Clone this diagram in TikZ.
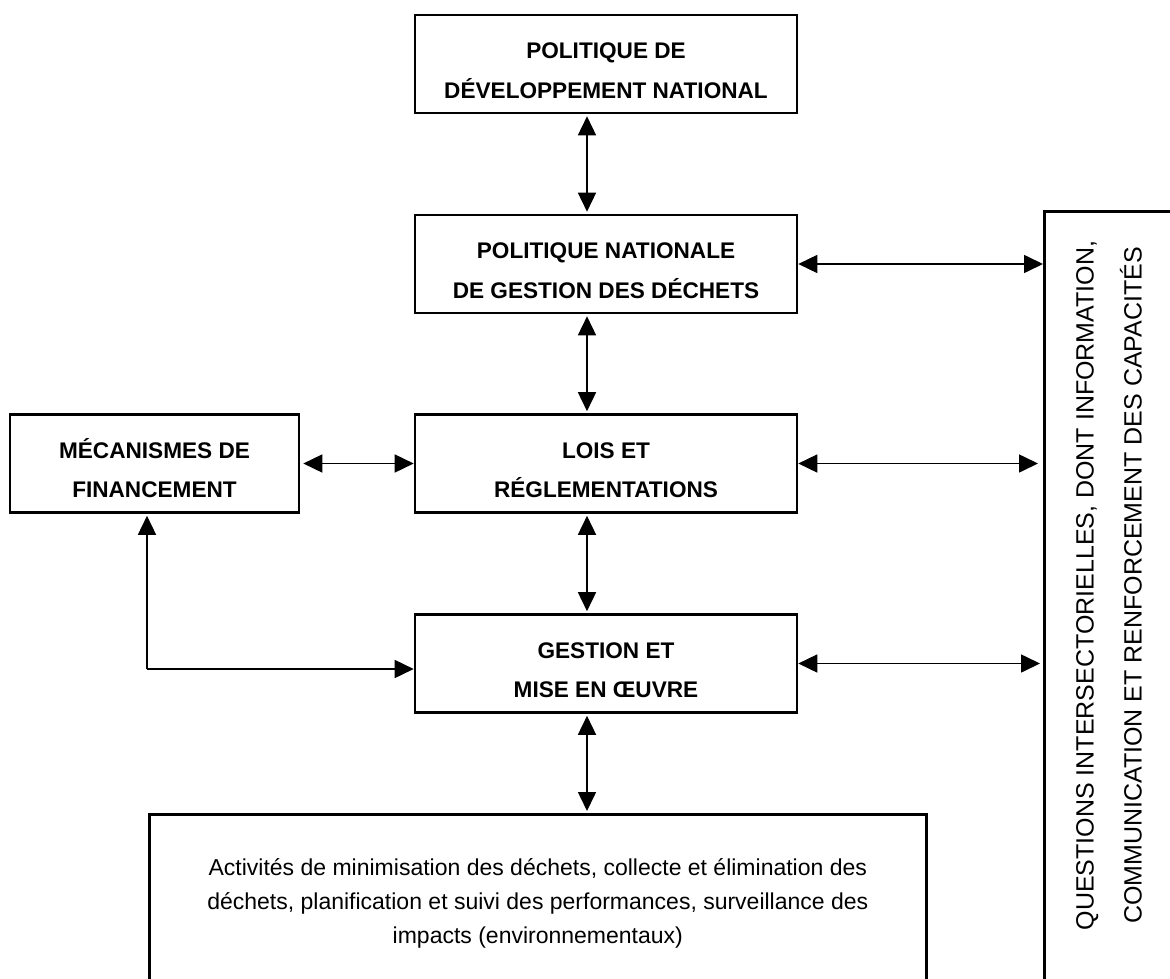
\documentclass[tikz,border=0pt]{standalone}
\usepackage{fontspec}
\setmainfont{Liberation Sans}
\usetikzlibrary{arrows.meta,calc}
\begin{document}
\begin{tikzpicture}[x=1pt,y=-1pt,
  box/.style={draw, line width=2.6pt, rectangle, inner sep=0pt, align=center,
    minimum height=98pt, font=\fontsize{22.6}{39.5}\selectfont\bfseries},
  frame/.style={draw, line width=2.6pt, rectangle, inner sep=0pt},
  tip/.style={Triangle[length=19pt,width=18pt]},
  arr/.style={line width=1.6pt, {Triangle[length=19pt,width=18pt]}-{Triangle[length=19pt,width=18pt]}},
  oarr/.style={line width=1.6pt, -{Triangle[length=19pt,width=18pt]}},
  seg/.style={line width=1.6pt}]
\useasboundingbox (0,0) rectangle (1170,979);
\fill[white] (0,0) rectangle (1170,979);
\clip (0,0) rectangle (1170,979);

% main column
\node[box, minimum width=382pt] (b1) at (606,64) {\rule{0pt}{29.5pt}POLITIQUE DE\\DÉVELOPPEMENT NATIONAL};
\node[box, minimum width=382pt] (b2) at (606,264) {\rule{0pt}{29.5pt}POLITIQUE NATIONALE\\DE GESTION DES DÉCHETS};
\node[box, minimum width=382pt] (b3) at (606,463.5) {\rule{0pt}{29.5pt}LOIS ET\\RÉGLEMENTATIONS};
\node[box, minimum width=382pt] (b4) at (606,663.5) {\rule{0pt}{29.5pt}GESTION ET\\MISE EN ŒUVRE};
\node[box, minimum width=289pt] (mec) at (154.5,463.5) {\rule{0pt}{29.5pt}MÉCANISMES DE\\FINANCEMENT};

% bottom box (cut by the page edge)
\node[frame, minimum width=777pt, minimum height=176pt, anchor=north west, align=center,
  font=\fontsize{23}{34}\selectfont] (act) at (148,813)
  {\rule{0pt}{20pt}Activités de minimisation des déchets, collecte et élimination des\\
   déchets, planification et suivi des performances, surveillance des\\
   impacts (environnementaux)\rule[-6pt]{0pt}{0pt}};

% right box (cut by the page edges)
\node[frame, minimum width=200pt, minimum height=800pt, anchor=north west] (rb) at (1043,210) {};
\node[rotate=90, align=center, inner sep=0pt, font=\fontsize{25}{48}\selectfont] (qt) at (1109,585.5)
  {QUESTIONS INTERSECTORIELLES, DONT INFORMATION,\\COMMUNICATION ET RENFORCEMENT DES CAPACITÉS};

% connectors
\coordinate (ax) at (587,0);
\draw[arr, shorten <=2pt, shorten >=2pt] (b1.south -| ax) -- (b2.north -| ax);
\draw[arr, shorten <=2pt, shorten >=2pt] (b2.south -| ax) -- (b3.north -| ax);
\draw[arr, shorten <=2pt, shorten >=2pt] (b3.south -| ax) -- (b4.north -| ax);
\draw[arr, shorten <=2pt, shorten >=2pt] (b4.south -| ax) -- (act.north -| ax);

\draw[arr] (b2.east) -- (rb.west |- b2.east);
\draw[arr, shorten >=5pt] (b3.east) -- (rb.west |- b3.east);
\draw[arr, shorten >=3pt] (b4.east) -- (rb.west |- b4.east);

\draw[arr, shorten <=3pt] (mec.east) -- (b3.west);

\coordinate (lc) at (147,669);
\draw[oarr, shorten >=2pt] (lc) -- (mec.south -| lc);
\draw[oarr] (lc) -- (b4.west |- lc);
\end{tikzpicture}
\end{document}
